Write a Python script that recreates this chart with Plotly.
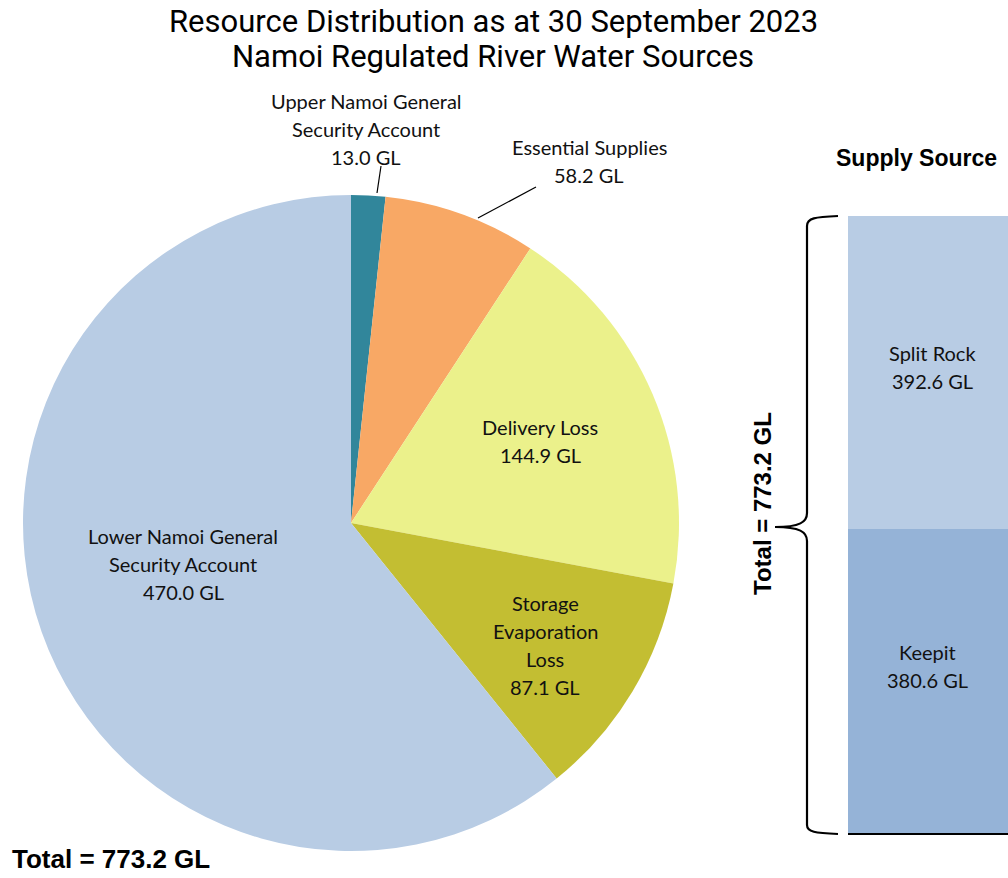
import plotly.graph_objects as go

W, H = 1008, 878

# ---- data ----
pie_labels = [["Upper Namoi General", "Security Account"], ["Essential Supplies"], ["Delivery Loss"],
              ["Storage", "Evaporation", "Loss"], ["Lower Namoi General", "Security Account"]]
pie_values = [13.0, 58.2, 144.9, 87.1, 470.0]
pie_colors = ["#31869B", "#F8A865", "#EBF18B", "#C3BE32", "#B8CCE4"]

bar_labels = ["Keepit", "Split Rock"]
bar_values = [380.6, 392.6]
bar_colors = ["#95B3D7", "#B8CCE4"]

title_lines = ["Resource Distribution as at 30 September 2023", "Namoi Regulated River Water Sources"]

total = round(sum(pie_values), 1)


def px(x):
    return x / W


def py(y):
    return 1 - y / H


LABEL_FONT = dict(family="Lato, Open Sans, sans-serif", size=20, color="#111111")
BOLD = "Liberation Sans, Arial, sans-serif"

fig = go.Figure()

# Pie (centre ~ (351,523), radius ~328)
cx, cy, r = 351, 523, 328
fig.add_trace(go.Pie(
    labels=[" ".join(l) for l in pie_labels],
    values=pie_values,
    marker=dict(colors=pie_colors, line=dict(width=0)),
    sort=False, direction="clockwise", rotation=0,
    textinfo="none", hoverinfo="label+value",
    showlegend=False,
    domain=dict(x=[px(cx - r), px(cx + r)], y=[py(cy + r), py(cy - r)]),
))

# Stacked bar
for lab, val, col in zip(bar_labels, bar_values, bar_colors):
    fig.add_trace(go.Bar(
        x=[0], y=[val], marker=dict(color=col, line=dict(width=0)),
        width=1, name=lab, hoverinfo="name+y",
        xaxis="x", yaxis="y", showlegend=False,
    ))

annotations = []


def add_lines(lines, x, y_first, spacing=28, font=LABEL_FONT):
    for i, t in enumerate(lines):
        annotations.append(dict(
            x=px(x), y=py(y_first + i * spacing), xref="paper", yref="paper",
            text=t, showarrow=False, font=font,
            xanchor="center", yanchor="middle", align="center",
        ))


# pie labels (first-line positions in pixels)
label_pos = [(366, 101), (589, 147), (540, 427), (545, 603), (183, 536)]
for lab, val, (x, y) in zip(pie_labels, pie_values, label_pos):
    add_lines(lab + [f"{val:.1f} GL"], x, y, spacing=28 if len(lab) != 3 else 28)

# bar labels
bar_label_pos = [(927, 652), (932, 353)]
for lab, val, (x, y) in zip(bar_labels, bar_values, bar_label_pos):
    add_lines([lab, f"{val:.1f} GL"], x, y, spacing=28)

# titles
add_lines(title_lines, 493, 22, spacing=34,
          font=dict(family="Roboto, sans-serif", size=31, color="#000000"))

annotations.append(dict(
    x=px(916), y=py(158), xref="paper", yref="paper", text="<b>Supply Source</b>",
    showarrow=False, font=dict(family=BOLD, size=23, color="#000000"),
    xanchor="center", yanchor="middle",
))
annotations.append(dict(
    x=px(10), y=py(859), xref="paper", yref="paper", text=f"<b>Total = {total:.1f} GL</b>",
    showarrow=False, font=dict(family=BOLD, size=26, color="#000000"),
    xanchor="left", yanchor="middle",
))
annotations.append(dict(
    x=px(762), y=py(504), xref="paper", yref="paper", text=f"<b>Total = {sum(bar_values):.1f} GL</b>",
    showarrow=False, textangle=-90,
    font=dict(family=BOLD, size=24, color="#000000"),
    xanchor="center", yanchor="middle",
))

shapes = []
# leader lines
for (x0, y0, x1, y1) in [(381, 166, 377, 193), (536, 187, 478, 218)]:
    shapes.append(dict(type="line", xref="paper", yref="paper",
                       x0=px(x0), y0=py(y0), x1=px(x1), y1=py(y1),
                       line=dict(color="#000000", width=1.2)))


# curly brace
def P(x, y):
    return f"{px(x):.5f},{py(y):.5f}"


path = (f"M{P(838, 216)} C{P(815, 217)} {P(807, 218)} {P(807, 226)} "
        f"L{P(807, 513)} C{P(807, 522)} {P(800, 527)} {P(775, 527)} "
        f"C{P(800, 527)} {P(807, 532)} {P(807, 541)} "
        f"L{P(807, 825)} C{P(807, 832)} {P(815, 833)} {P(838, 834)}")
shapes.append(dict(type="path", xref="paper", yref="paper", path=path,
                   line=dict(color="#000000", width=2.2)))

fig.update_layout(
    width=W, height=H,
    margin=dict(l=0, r=0, t=0, b=0),
    paper_bgcolor="white", plot_bgcolor="white",
    barmode="stack", bargap=0,
    xaxis=dict(domain=[px(848), 1], range=[-0.5, 0.45], visible=True,
               showticklabels=False, ticks="", showgrid=False, zeroline=False,
               showline=True, linecolor="#000000", linewidth=1.5, fixedrange=True),
    yaxis=dict(domain=[py(833), py(216)], range=[0, sum(bar_values)],
               showticklabels=False, ticks="", showgrid=False, zeroline=False,
               showline=False, fixedrange=True),
    annotations=annotations,
    shapes=shapes,
)

fig.write_html("out.html")
